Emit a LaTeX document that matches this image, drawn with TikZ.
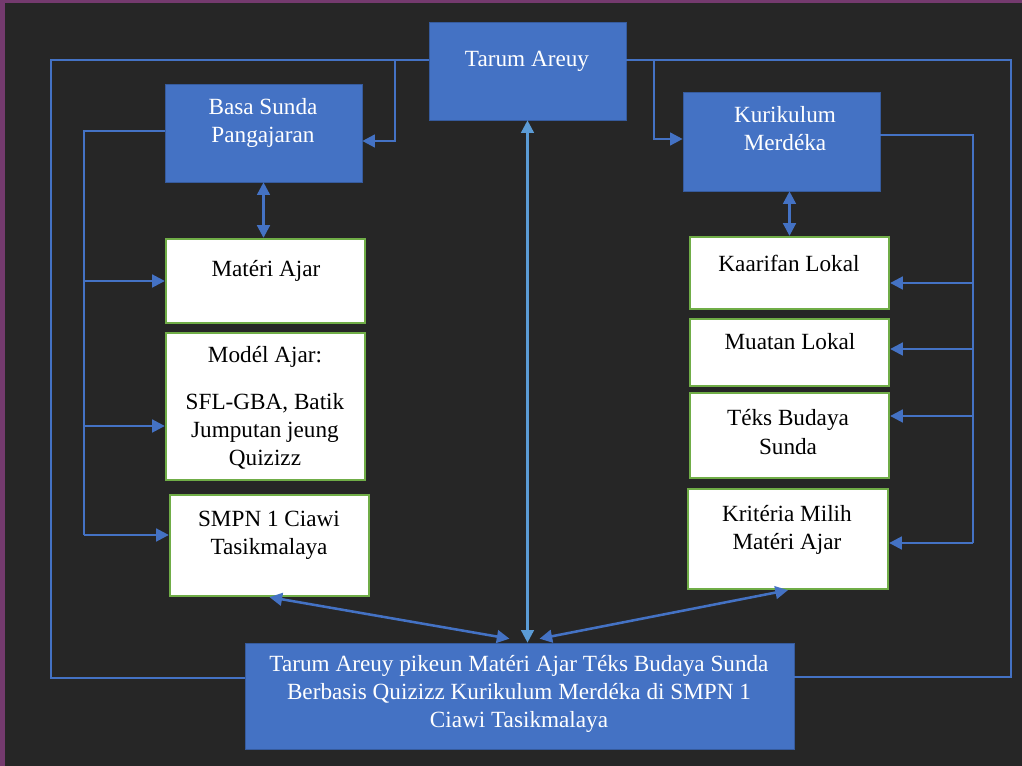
\documentclass[tikz,border=0pt]{standalone}
\usepackage{fontspec}
\setmainfont{Liberation Serif}
\usetikzlibrary{arrows.meta}
\definecolor{slide}{HTML}{262626}
\definecolor{frame}{HTML}{743A6E}
\definecolor{boxblue}{HTML}{4472C4}
\definecolor{lineblue}{HTML}{4472C4}
\definecolor{skyblue}{HTML}{5B9BD5}
\definecolor{boxgreen}{HTML}{70AD47}

\begin{document}
\begin{tikzpicture}[x=0.025cm, y=-0.025cm,
	bluebox/.style={fill=boxblue, draw=boxblue!80!black, line width=0.4pt, inner sep=0pt},
	whitebox/.style={fill=white, draw=boxgreen, line width=1.6pt, inner sep=0pt},
	wtxt/.style={text=white, align=center, inner sep=0pt, font=\fontsize{16.5}{20}\selectfont},
	btxt/.style={text=black, align=center, inner sep=0pt, font=\fontsize{16.5}{20}\selectfont},
	conn/.style={draw=lineblue, line width=1.8pt},
	arr/.style={conn, -{Triangle[length=9pt,width=9pt]}},
	darr/.style={conn, {Triangle[length=9pt,width=9pt]}-{Triangle[length=9pt,width=9pt]}}]
	% background
	\fill[frame] (0,0) rectangle (1022,766);
	\fill[slide] (5,3) rectangle (1022,766);
	\useasboundingbox (0,0) rectangle (1022,766);

	% blue boxes
	\node[bluebox, minimum width=4.925cm, minimum height=2.45cm] (tarum) at (527.5,71) {};
	\node[bluebox, minimum width=4.925cm, minimum height=2.45cm] (basa) at (263.5,133) {};
	\node[bluebox, minimum width=4.925cm, minimum height=2.475cm] (kuri) at (781.5,141.5) {};
	\node[bluebox, minimum width=13.725cm, minimum height=2.65cm] (hasil) at (519.5,696) {};

	% white boxes, left
	\node[whitebox, minimum width=4.975cm, minimum height=2.1cm] (materi) at (265.5,281) {};
	\node[whitebox, minimum width=4.975cm, minimum height=3.675cm] (model) at (265.5,406.5) {};
	\node[whitebox, minimum width=4.975cm, minimum height=2.525cm] (smpn) at (269.5,545.5) {};
	% white boxes, right
	\node[whitebox, minimum width=4.975cm, minimum height=1.8cm] (kaarifan) at (789.5,273) {};
	\node[whitebox, minimum width=4.975cm, minimum height=1.675cm] (muatan) at (789.5,352.5) {};
	\node[whitebox, minimum width=4.975cm, minimum height=2.125cm] (teks) at (789.5,435.5) {};
	\node[whitebox, minimum width=5cm, minimum height=2.5cm] (kriteria) at (788,539) {};

	% texts
	\node[wtxt] (tarum-t) at (527,61) {Tarum Areuy};
	\node[wtxt] (basa-t) at (263,123) {Basa Sunda\\Pangajaran};
	\node[wtxt] (kuri-t) at (785,129) {Kurikulum\\Merdéka};
	\node[wtxt] (hasil-t) at (519,694) {Tarum Areuy pikeun Matéri Ajar Téks Budaya Sunda\\Berbasis Quizizz Kurikulum Merdéka di SMPN 1\\Ciawi Tasikmalaya};
	\node[btxt] (materi-t) at (266,271) {Matéri Ajar};
	\node[btxt] (model-t) at (265,408) {Modél Ajar:\\[13pt]SFL-GBA, Batik\\Jumputan jeung\\Quizizz};
	\node[btxt] (smpn-t) at (269,535) {SMPN 1 Ciawi\\Tasikmalaya};
	\node[btxt] (kaarifan-t) at (789,263) {Kaarifan Lokal};
	\node[btxt] (muatan-t) at (790,342) {Muatan Lokal};
	\node[btxt] (teks-t) at (788,432) {Téks Budaya\\Sunda};
	\node[btxt] (kriteria-t) at (787,530) {Kritéria Milih\\Matéri Ajar};

	% turning points
	\coordinate (outL) at (51,60);
	\coordinate (outLb) at (51,678);
	\coordinate (outR) at (1011,60);
	\coordinate (outRb) at (1011,677);
	\coordinate (jb) at (395,141);
	\coordinate (jk) at (654,139);
	\coordinate (lb) at (84,131);
	\coordinate (lm) at (84,426);
	\coordinate (ls) at (84,535);
	\coordinate (rb) at (973,135);
	\coordinate (rk1) at (973,283);
	\coordinate (rk2) at (973,349);
	\coordinate (rk3) at (973,416);
	\coordinate (rk4) at (973,543);

	% outer loop
	\draw[conn] (tarum.west |- outL) -- (outL) -- (outLb) -- (hasil.west |- outLb);
	\draw[conn] (tarum.east |- outR) -- (outR) -- (outRb) -- (hasil.east |- outRb);
	\draw[arr] (jb |- outL) -- (jb) -- (basa.east |- jb);
	\draw[arr] (jk |- outR) -- (jk) -- (kuri.west |- jk);

	% left side
	\draw[conn] (basa.west |- lb) -- (lb) -- (ls);
	\draw[arr] (lb |- materi.west) -- (materi.west);
	\draw[arr] (lm) -- (model.west |- lm);
	\draw[arr] (ls) -- (smpn.west |- ls);
	\draw[darr] (basa.south) -- (basa.south |- materi.north);

	% right side
	\draw[conn] (kuri.east |- rb) -- (rb) -- (rk4);
	\draw[arr] (rk1) -- (kaarifan.east |- rk1);
	\draw[arr] (rk2) -- (muatan.east |- rk2);
	\draw[arr] (rk3) -- (teks.east |- rk3);
	\draw[arr] (rk4) -- (kriteria.east |- rk4);
	\draw[darr] (kaarifan.north |- kuri.south) -- (kaarifan.north);

	% to the bottom box
	\draw[darr, draw=skyblue] (tarum.south) -- (tarum.south |- hasil.north);
	\draw[darr] (smpn.south) -- ([xshift=-0.25cm, yshift=0.1cm]hasil.north);
	\draw[darr] (kriteria.south) -- ([xshift=0.5cm, yshift=0.1cm]hasil.north);
\end{tikzpicture}
\end{document}
